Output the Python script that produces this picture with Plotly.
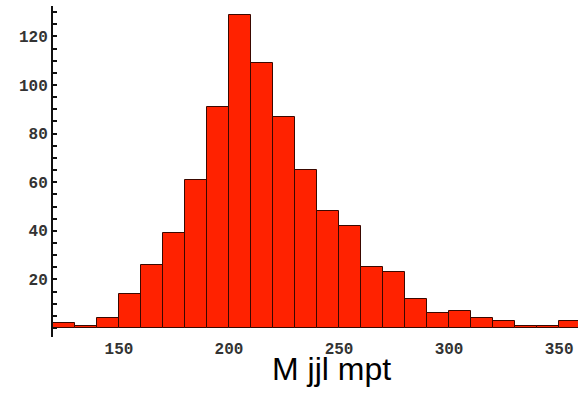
import plotly.graph_objects as go

bin_starts = [120, 130, 140, 150, 160, 170, 180, 190, 200, 210, 220, 230,
              240, 250, 260, 270, 280, 290, 300, 310, 320, 330, 340, 350]
counts = [2, 1, 4, 14, 26, 39, 61, 91, 129, 109, 87, 65,
          48, 42, 25, 23, 12, 6, 7, 4, 3, 1, 1, 3]
bin_width = 10
x_ticks = [150, 200, 250, 300, 350]
y_ticks = [20, 40, 60, 80, 100, 120]
x_title = "M jjl mpt"

fig = go.Figure(go.Bar(
    x=[b + bin_width / 2 for b in bin_starts],
    y=counts,
    width=bin_width,
    marker=dict(color="#ff2200", line=dict(color="#3a0800", width=1)),
))

tickfont = dict(family="Liberation Mono", size=16, color="#333", weight="bold")
fig.update_layout(
    width=578, height=400,
    margin=dict(l=53, r=0, t=6, b=63, pad=0),
    plot_bgcolor="white", paper_bgcolor="white",
    showlegend=False,
    bargap=0,
    xaxis=dict(range=[120, 358.6], tickvals=x_ticks, showgrid=False,
               zeroline=False, showline=False, ticks="", tickfont=tickfont,
               ticklabelstandoff=0, automargin=False),
    yaxis=dict(range=[-3.7, 132.5], tickvals=y_ticks, showgrid=False,
               zeroline=False, showline=True, linecolor="#111", linewidth=2,
               ticks="inside", ticklen=4, tickcolor="#111", tickwidth=1.5,
               tickfont=tickfont, automargin=False,
               minor=dict(dtick=5, tick0=0, ticks="inside", ticklen=4,
                          tickcolor="#111", tickwidth=1.5)),
    annotations=[dict(text=x_title, xref="paper", yref="paper",
                      x=0.531, y=-0.097, xanchor="center", yanchor="middle",
                      showarrow=False,
                      font=dict(family="Liberation Sans", size=32, color="black"))],
)

fig.write_html("out.html", config={"displayModeBar": False},
               post_script="document.body.style.margin='0';document.body.style.overflow='hidden';")
